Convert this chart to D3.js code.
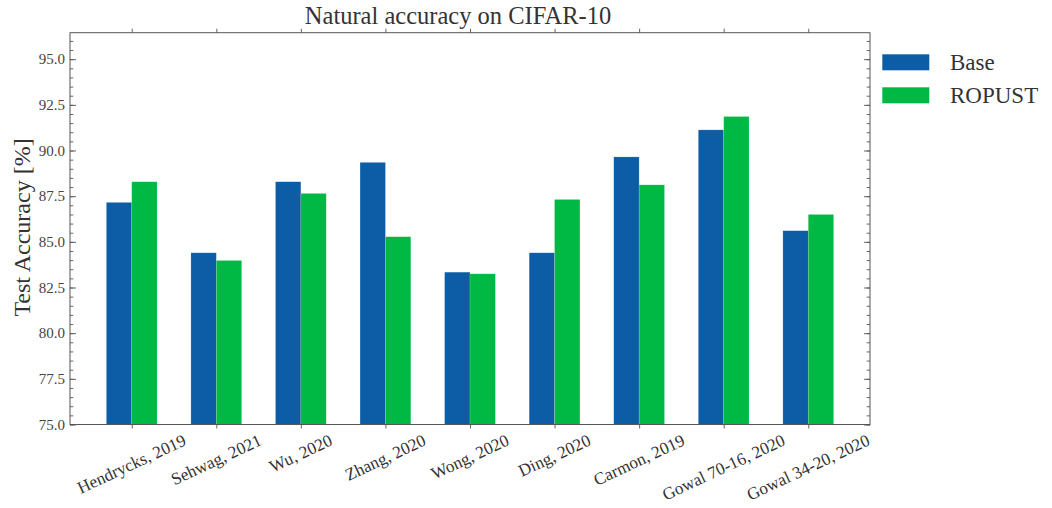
<!DOCTYPE html>
<html>
<head>
<meta charset="utf-8">
<script src="https://cdn.jsdelivr.net/npm/d3@7"></script>
<style>
  body { margin: 0; background: #fff; }
  text { font-family: "Liberation Serif", "DejaVu Serif", serif; fill: #222; }
</style>
</head>
<body>
<div id="chart"></div>
<script>
var categories = ['Hendrycks, 2019', 'Sehwag, 2021', 'Wu, 2020', 'Zhang, 2020', 'Wong, 2020',
  'Ding, 2020', 'Carmon, 2019', 'Gowal 70-16, 2020', 'Gowal 34-20, 2020'];
var baseValues = [87.16, 84.40, 88.29, 89.35, 83.34, 84.40, 89.65, 91.13, 85.61];
var ropustValues = [88.29, 83.98, 87.65, 85.28, 83.25, 87.32, 88.12, 91.86, 86.50];
var seriesNames = ['Base', 'ROPUST'];
var seriesColors = ['#0C5DA5', '#00B945'];
var yTicks = [75, 77.5, 80, 82.5, 85, 87.5, 90, 92.5, 95];

(function () {
  'use strict';

  var width = 1052, height = 508;
  var margin = {top: 32.7, right: 182, bottom: 83.5, left: 70};
  var barWidth = 0.3;

  var svg = d3.select('#chart').append('svg')
    .attr('width', width)
    .attr('height', height);

  var x = d3.scaleLinear()
    .domain([-0.73, categories.length - 1 + 0.73])
    .range([margin.left, width - margin.right]);
  var y = d3.scaleLinear()
    .domain([75, 96.45])
    .range([height - margin.bottom, margin.top]);

  var series = [baseValues, ropustValues];

  // bars
  series.forEach(function (vals, s) {
    svg.append('g').selectAll('rect')
      .data(vals)
      .enter().append('rect')
      .attr('x', function (d, i) { return x(i - barWidth + s * barWidth); })
      .attr('width', function (d, i) { return x(barWidth) - x(0); })
      .attr('y', function (d) { return y(d); })
      .attr('height', function (d) { return y(75) - y(d); })
      .attr('fill', seriesColors[s])
      .attr('stroke', 'rgba(255,255,255,0.25)')
      .attr('stroke-width', 0.6);
  });

  // axes
  var idx = d3.range(categories.length);
  var minor = d3.range(75, 96.45, 0.5);

  var left = svg.append('g')
    .attr('transform', 'translate(' + x.range()[0] + ',0)')
    .call(d3.axisRight(y).tickValues(minor).tickSize(3.3).tickFormat(''));
  left.append('g').call(d3.axisRight(y).tickValues(yTicks).tickSize(6).tickFormat(''));

  var right = svg.append('g')
    .attr('transform', 'translate(' + x.range()[1] + ',0)')
    .call(d3.axisLeft(y).tickValues(minor).tickSize(3.3).tickFormat(''));
  right.append('g').call(d3.axisLeft(y).tickValues(yTicks).tickSize(6).tickFormat(''));

  svg.append('g')
    .attr('transform', 'translate(0,' + y.range()[0] + ')')
    .call(d3.axisBottom(x).tickValues(idx).tickSize(4).tickFormat(''));
  svg.append('g')
    .attr('transform', 'translate(0,' + y.range()[1] + ')')
    .call(d3.axisTop(x).tickValues(idx).tickSize(4).tickFormat(''));

  svg.selectAll('.domain').remove();
  svg.selectAll('.tick line').attr('stroke', '#555').attr('stroke-width', 0.9);

  svg.append('rect')
    .attr('x', x.range()[0])
    .attr('y', y.range()[1])
    .attr('width', x.range()[1] - x.range()[0])
    .attr('height', y.range()[0] - y.range()[1])
    .attr('fill', 'none')
    .attr('stroke', '#555')
    .attr('stroke-width', 1);

  // y tick labels
  svg.append('g').selectAll('text')
    .data(yTicks)
    .enter().append('text')
    .attr('x', 65)
    .attr('y', function (d) { return y(d); })
    .attr('dy', '0.35em')
    .attr('text-anchor', 'end')
    .style('font-size', '15px')
    .style('fill', '#444')
    .text(d3.format('.1f'));

  // x tick labels, rotated, bounding box centred under tick
  var angle = 25 * Math.PI / 180;
  var labelTop = 432;
  var labelSize = 17.2;
  svg.append('g').selectAll('text')
    .data(categories)
    .enter().append('text')
    .attr('text-anchor', 'middle')
    .attr('dy', '0.32em')
    .style('font-size', labelSize + 'px')
    .style('fill', '#333')
    .text(function (d) { return d; })
    .each(function (d, i) {
      var L = this.getComputedTextLength();
      var h = labelSize * 0.95;
      var cx = x(i);
      var cy = labelTop + (L * Math.sin(angle) + h * Math.cos(angle)) / 2;
      d3.select(this)
        .attr('x', cx)
        .attr('y', cy)
        .attr('transform', 'rotate(-25,' + cx + ',' + cy + ')');
    });

  // title
  svg.append('text')
    .attr('x', 458)
    .attr('y', 23.5)
    .attr('text-anchor', 'middle')
    .style('font-size', '24.5px')
    .style('fill', '#333')
    .text('Natural accuracy on CIFAR-10');

  // y label
  svg.append('text')
    .attr('transform', 'translate(30,227.5) rotate(-90)')
    .attr('text-anchor', 'middle')
    .style('font-size', '24px')
    .style('fill', '#333')
    .text('Test Accuracy [%]');

  // legend
  var legend = svg.append('g');
  seriesNames.forEach(function (name, s) {
    var ly = 54.3 + s * 33;
    legend.append('rect')
      .attr('x', 882.3)
      .attr('y', ly)
      .attr('width', 47)
      .attr('height', 16)
      .attr('fill', seriesColors[s]);
    legend.append('text')
      .attr('x', 950)
      .attr('y', ly + 16)
      .style('font-size', '23px')
      .style('fill', '#333')
      .text(name);
  });
})();
</script>
</body>
</html>
